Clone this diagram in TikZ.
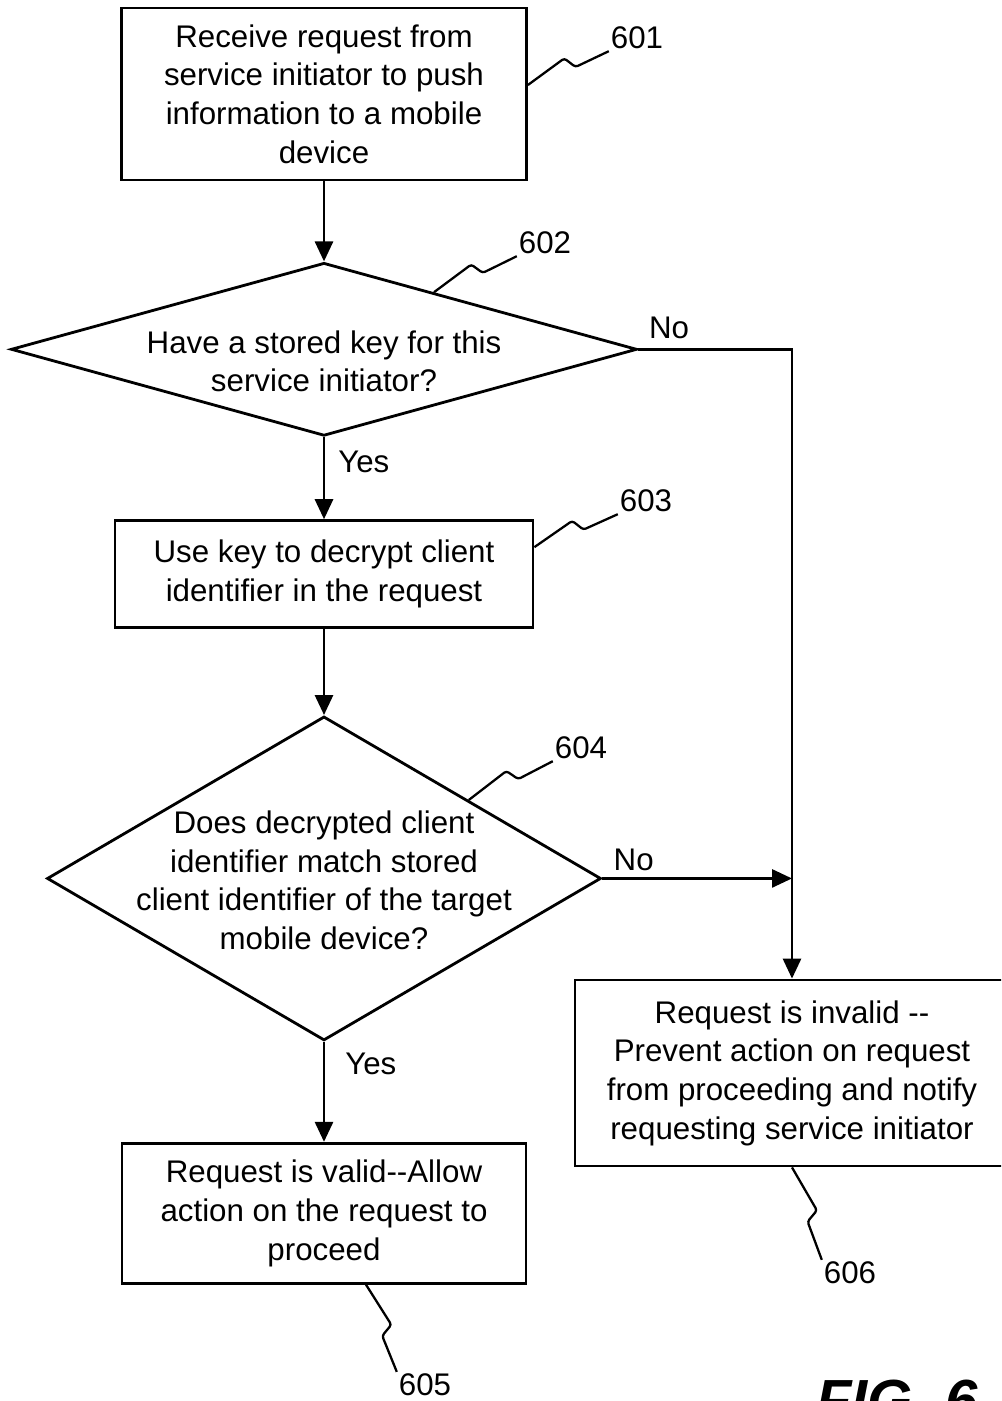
\documentclass[tikz,border=0pt]{standalone}
\usepackage{fontspec}
\setmainfont{Liberation Sans}
\usetikzlibrary{positioning,shapes.geometric,arrows.meta,calc}

\newcommand{\leaderline}[2]{%
  \draw[leader] (#1) -- ($(#1)!0.5!(#2)!6pt!90:(#2)$) -- ($(#1)!0.58!(#2)!-1pt!90:(#2)$) -- (#2);}

\begin{document}
\begin{tikzpicture}[auto,font=\fontsize{17.8}{22}\selectfont,process/.style={draw,rectangle,line width=1.6pt,align=center,inner sep=0pt}, decision/.style={draw,diamond,line width=1.6pt,inner sep=0pt}, flow/.style={-{Triangle[length=0.4cm,width=0.36cm]},line width=1.6pt}, leader/.style={line width=1.3pt,rounded corners=1.5pt}, num/.style={inner sep=1pt}]
        \useasboundingbox (0,0) rectangle (20.02,-28.02);
        \clip (0,0) rectangle (20.02,-28.02);

        \node[process,minimum width=8.1cm,minimum height=3.44cm] (receive) at (6.48,-1.88) {Receive request from\\service initiator to push\\information to a mobile\\device};
        \node[decision,minimum width=12.52cm,minimum height=3.46cm,label={[align=center,yshift=-0.24cm]center:{Have a stored key for this\\service initiator?}}] (haskey) [below = 1.6cm of receive] {};
        \node[process,minimum width=8.36cm,minimum height=2.14cm] (decrypt) [below = 1.64cm of haskey] {Use key to decrypt client\\identifier in the request};
        \node[decision,minimum width=11.08cm,minimum height=6.48cm,label={[align=center,yshift=-0.04cm]center:{Does decrypted client\\identifier match stored\\client identifier of the target\\mobile device?}}] (match) [below = 1.72cm of decrypt] {};
        \node[process,minimum width=8.08cm,minimum height=2.8cm] (valid) [below = 2cm of match] {Request is valid-{}-Allow\\action on the request to\\proceed};
        \node[process,minimum width=8.68cm,minimum height=3.72cm] (invalid) at (15.84,-21.46) {Request is invalid -{}-\\Prevent action on request\\from proceeding and notify\\requesting service initiator};

        \path (receive) edge[flow] (haskey);
        \path (haskey) edge[flow] node[right,pos=0.3,xshift=4pt] {Yes} (decrypt);
        \path (decrypt) edge[flow] (match);
        \path (match) edge[flow] node[right,pos=0.22,xshift=8pt] {Yes} (valid);
        \draw[flow] (haskey.east) -| node[above,pos=0.1,yshift=2pt] {No} (invalid.north);
        \draw[flow] (match.east) -- node[above,pos=0.165] {No} (match.east -| invalid.north);

        \node[num] (l601) at (12.74,-0.76) {601};
        \node[num] (l602) at (10.9,-4.86) {602};
        \node[num] (l603) at (12.92,-10.02) {603};
        \node[num] (l604) at (11.62,-14.96) {604};
        \node[num] (l605) at (8.5,-27.7) {605};
        \node[num] (l606) at (17.0,-25.46) {606};

        \coordinate (a601) at ([yshift=0.18cm]receive.east);
        \coordinate (a602) at ($(haskey.north)!0.35!(haskey.east)$);
        \coordinate (a603) at ([yshift=0.54cm]decrypt.east);
        \coordinate (a604) at ($(match.north)!0.52!(match.east)$);
        \coordinate (a605) at ([xshift=0.84cm]valid.south);
        \coordinate (a606) at (invalid.south);

        \leaderline{a601}{l601.south west}
        \leaderline{a602}{l602.south west}
        \leaderline{a603}{l603.south west}
        \leaderline{a604}{l604.south west}
        \leaderline{a605}{l605.north west}
        \leaderline{a606}{l606.north west}

        \node[anchor=base west,font=\fontsize{33}{40}\selectfont\bfseries\itshape] (figlabel) at (16.2,-28.4) {FIG. 6};
    \end{tikzpicture}
\end{document}
